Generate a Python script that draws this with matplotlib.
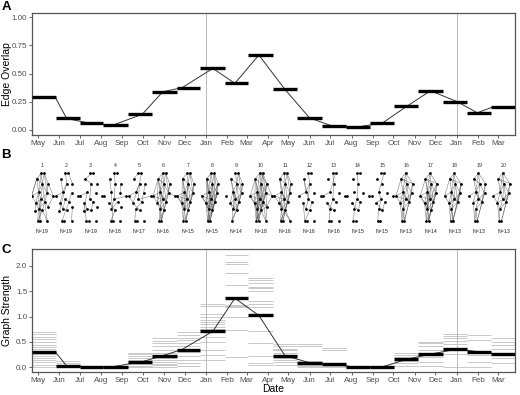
import datetime as dt
import matplotlib
matplotlib.use('Agg')
import matplotlib.pyplot as plt
import matplotlib.dates as mdates

plt.rcParams['font.family'] = ['Liberation Sans', 'DejaVu Sans']

# sampling windows (edges shared by neighbouring windows)
window_edges = ['2014-04-23', '2014-05-28', '2014-07-02', '2014-08-04', '2014-09-10',
                '2014-10-15', '2014-11-20', '2014-12-23', '2015-01-29', '2015-03-03',
                '2015-04-08', '2015-05-14', '2015-06-19', '2015-07-24', '2015-08-28',
                '2015-10-02', '2015-11-06', '2015-12-12', '2016-01-16', '2016-02-20',
                '2016-03-26']
# dates where the connecting line passes each window
line_dates = ['2014-05-26', '2014-06-12', '2014-07-16', '2014-08-18', '2014-09-30',
              '2014-10-30', '2014-11-27', '2015-01-11', '2015-02-12', '2015-03-19',
              '2015-04-26', '2015-06-01', '2015-07-04', '2015-08-09', '2015-09-15',
              '2015-10-21', '2015-11-24', '2016-01-02', '2016-01-31', '2016-02-24']
year_marks = ['2015-01-01', '2016-01-01']

edge_overlap = [0.294, 0.10, 0.057, 0.04, 0.137, 0.338, 0.374, 0.546, 0.413, 0.665,
                0.359, 0.104, 0.033, 0.024, 0.06, 0.211, 0.347, 0.249, 0.151, 0.205]
graph_strength = [0.31, 0.03, 0.012, 0.012, 0.11, 0.23, 0.35, 0.71, 1.36, 1.02,
                  0.23, 0.09, 0.065, 0.0, 0.01, 0.16, 0.26, 0.36, 0.31, 0.27]
individual_strength = [
    [0.69, 0.66, 0.60, 0.55, 0.49, 0.44, 0.40, 0.36, 0.27, 0.22, 0.18, 0.14, 0.10, 0.05, 0.01],
    [0.13, 0.09, 0.05, 0.02, 0.0, 0.0],
    [0.03, 0.01, 0.0, 0.0],
    [0.02, 0.01, 0.0, 0.0],
    [0.29, 0.26, 0.23, 0.19, 0.15, 0.11, 0.07, 0.03, 0.0],
    [0.57, 0.52, 0.47, 0.41, 0.35, 0.29, 0.18, 0.14, 0.10, 0.07, 0.04, 0.01],
    [0.70, 0.63, 0.58, 0.53, 0.48, 0.42, 0.30, 0.22, 0.15, 0.09, 0.02],
    [1.24, 1.21, 1.04, 0.99, 0.94, 0.90, 0.85, 0.80, 0.75, 0.60, 0.49, 0.35, 0.24, 0.14],
    [2.21, 2.07, 2.03, 1.85, 1.62, 1.23, 1.20, 1.18, 1.00, 0.74, 0.21],
    [1.75, 1.71, 1.66, 1.59, 1.56, 1.50, 1.30, 1.24, 1.19, 0.72, 0.47, 0.22, 0.08, 0.05],
    [0.45, 0.41, 0.37, 0.34, 0.29, 0.18, 0.14, 0.11, 0.05],
    [0.45, 0.42, 0.12, 0.05, 0.02, 0.0],
    [0.38, 0.34, 0.06, 0.02, 0.0],
    [0.01, 0.0, 0.0],
    [0.02, 0.01, 0.0],
    [0.28, 0.25, 0.21, 0.12, 0.08, 0.03],
    [0.50, 0.47, 0.41, 0.35, 0.28, 0.21, 0.11, 0.02],
    [0.65, 0.62, 0.57, 0.52, 0.45, 0.36, 0.26, 0.01],
    [0.64, 0.54, 0.24, 0.11, 0.01],
    [0.57, 0.49, 0.44, 0.37, 0.28, 0.18, 0.08],
]

# networks of panel B
net_ids = list(range(1, 21))
net_sizes = [19, 19, 19, 18, 17, 16, 15, 15, 14, 18, 16, 16, 16, 15, 15, 13, 14, 13, 13, 13]
net_nodes = ['abcdefghijklmnopqrs', 'abcdefghijklmnopqrs', 'abcdefghijklmnopqrs',
             'abcdefghijklmnoqrs', 'abcdefghijklnoqrs', 'abcdefghijklnoqr',
             'abcdefhijklnoqr', 'abcdefhijklnoqr', 'abcdefhijklnoq',
             'abcdefghijklmnoqrs', 'abcdefhijklnoqrs', 'abcefghijklnoqrs',
             'abcefghijklnoqrs', 'abcefghijklnoqr', 'abcefghijklnoqr',
             'acdefhijklnqr', 'acdefhijklnoqr', 'acdefhijklnqr', 'acdefhijklnqr',
             'acdefhijklnqr']
net_edges = [
    'ab ac ae ai bd be bh ce ci cf ei ej eh ek dh dg hg hk hj ij il fi fl jl jk jn ko kn km lp ln np nq no oq os ks mg ir jr fc',
    'ab ae bd ci ei fi il jn ln no jk kq ms hk ep',
    'ab bc ce ej jk ln lq no ko if ip',
    'ab ae ci ej jg jn kn lo oq dh ir',
    'ab ac be ei ej jk kn lo if fl nq dk jg el',
    'ab ac ae ai bd be bh ce ci cf cj ei ej eh ek dh dk hk hj hg ij il ik fi fl fj jl jk jn jo kn ko lo ln nq nr oq or kr ir cl',
    'ab ac ae bd be bh ce ci cj cl ei ej eh ek en dh dk hk hj ho ij il ik in fi fl fj fn jl jk jn jo kn ko lo ln nq nr oq or kr lq',
    'ab ac ae ai bd be bh bk ce ci cj cl cn ei ej eh ek en eo dh dk dj hk hj ho hr ij il ik in io fi fl fj fn jl jk jn jo jq kn ko kq lo ln lr nq nr oq or kr lq',
    'ab ae bd be bh ce ci cj ei ej eh ek dh dk hk hj ho ij il ik in jl jk jn jo kn ko lo ln nq oq kq',
    'ab ac ad ae ai bd be bh bk ce ci cj cl cf ei ej eh ek en eo dh dk dj dg hk hj ho hg hm ij il ik in io fi fl fj fn jl jk jn jo jq jm kn ko kq km lo ln lr lq nq nr oq or os kr ks ms mo ir gm',
    'ab ac ae bd be bh ce ci cj ei ej eh ek dh dk hk hj ho ij il ik in fi fl fj jl jk jn jo kn ko kq lo ln nq nr oq or kr ls os',
    'ab ae ci cj ei ej fi jk jn ln lq no oq ko',
    'ab ae bi ej jn jk nq ln lo fi',
    'ab ae ej jn nq jk ko lo',
    'ab bi ij jl jn nq lo ko',
    'ac ad ae ai cd ce ci cf ei ej eh ek dh dk hk hj ij il ik fi fl fj jl jk jn kn lq ln nq nr kr ir hr',
    'ac ad ae ai cd ce ci cf cj ei ej eh ek en dh dk dj hk hj ho ij il ik in fi fl fj fn jl jk jn jo kn ko lo ln lq nq nr oq or kr ir hr',
    'ac ad ae ai cd ce ci cf ei ej eh ek dh dk hk hj ij il ik fi fl jl jk jn kn lq ln nq nr kr ir hr dr',
    'ac ad ae ai ce ci ei ej eh dh dk hk hj ij il ik fi jl jk jn kn lq nq nr kr hr',
    'ac ad ae ai cd ce ci ei ej eh ek dh dk hk hj ij il fi fl jl jk jn kn lq ln nq kr hr',
]
node_layout = {
    'a': (0.55, 1.00), 'b': (0.72, 1.00), 'c': (0.30, 0.88), 'd': (0.95, 0.78),
    'e': (0.62, 0.78), 'f': (0.00, 0.52), 'g': (1.25, 0.52), 'h': (0.90, 0.58),
    'i': (0.40, 0.60), 'j': (0.55, 0.45), 'k': (0.75, 0.40), 'l': (0.25, 0.38),
    'm': (0.95, 0.30), 'n': (0.40, 0.25), 'o': (0.62, 0.22), 'p': (0.20, 0.20),
    'q': (0.35, 0.00), 'r': (0.48, 0.00), 's': (0.90, 0.00),
}

to_date = lambda s: dt.datetime.strptime(s, '%Y-%m-%d')
edges = [to_date(s) for s in window_edges]
starts, ends = edges[:-1], edges[1:]
ldates = [to_date(s) for s in line_dates]

W, H = 520, 395
fig = plt.figure(figsize=(W / 100, H / 100), dpi=100)

def px_axes(x0, y0, x1, y1):
    return fig.add_axes([x0 / W, 1 - y1 / H, (x1 - x0) / W, (y1 - y0) / H])

tick_col = '#4D4D4D'

def style_time_axis(ax):
    ax.set_xlim(edges[0], edges[-1])
    ax.xaxis.set_major_locator(mdates.MonthLocator())
    ax.xaxis.set_major_formatter(mdates.DateFormatter('%b'))
    ax.tick_params(axis='both', labelsize=5.8, colors=tick_col, length=2.2, width=0.6, pad=1.5)
    for sp in ax.spines.values():
        sp.set_color('#555555')
        sp.set_linewidth(0.9)
    for y in year_marks:
        ax.axvline(to_date(y), color='#BBBBBB', lw=0.7, zorder=0)

# ---- A ----
axA = px_axes(32.3, 12.7, 515, 135)
style_time_axis(axA)
axA.plot(ldates, edge_overlap, color='#333333', lw=0.7, zorder=2)
axA.hlines(edge_overlap, starts, ends, color='black', lw=2.4, capstyle='butt', zorder=3)
axA.set_ylim(-0.047, 1.042)
axA.set_yticks([0, 0.25, 0.5, 0.75, 1.0])
axA.set_yticklabels(['0.00', '0.25', '0.50', '0.75', '1.00'])
axA.set_ylabel('Edge Overlap', fontsize=7.5)
axA.yaxis.set_label_coords((12.5 - 32.3) / (515 - 32.3), 0.5)

# ---- B ----
axB = px_axes(32.3, 155, 515, 245)
axB.set_xlim(0.60, 20.47)
axB.set_ylim(-0.5, 1.375)
axB.axis('off')
sx = 0.72
for k, i in enumerate(net_ids):
    pos = {n: (i + (node_layout[n][0] - 0.6) * sx, node_layout[n][1]) for n in net_nodes[k]}
    for e in net_edges[k].split():
        (x1, y1), (x2, y2) = pos[e[0]], pos[e[1]]
        axB.plot([x1, x2], [y1, y2], color='#555555', lw=0.4, alpha=0.75, zorder=1)
    xs = [p[0] for p in pos.values()]
    ys = [p[1] for p in pos.values()]
    axB.scatter(xs, ys, s=4, color='black', zorder=2, linewidths=0)
    axB.text(i, 1.146, str(i), fontsize=3.8, ha='center', va='center', color='#333333')
    axB.text(i, -0.21, f'N={net_sizes[k]}', fontsize=3.8, ha='center', va='center', color='#222222')

# ---- C ----
axC = px_axes(32.3, 249.3, 515, 372.3)
style_time_axis(axC)
for s, e, vals in zip(starts, ends, individual_strength):
    axC.hlines(vals, s, e, color='#BBBBBB', lw=0.55, zorder=1)
axC.plot(ldates, graph_strength, color='#333333', lw=0.7, zorder=2)
axC.hlines(graph_strength, starts, ends, color='black', lw=2.4, capstyle='butt', zorder=3)
axC.set_ylim(-0.098, 2.323)
axC.set_yticks([0, 0.5, 1.0, 1.5, 2.0])
axC.set_yticklabels(['0.0', '0.5', '1.0', '1.5', '2.0'])
axC.set_ylabel('Graph Strength', fontsize=7.5)
axC.yaxis.set_label_coords((12.5 - 32.3) / (515 - 32.3), 0.5)

fig.text(273.6 / W, 1 - 389.5 / H, 'Date', fontsize=7.5, ha='center', va='center')

for lab, y in [('A', 7), ('B', 155), ('C', 250)]:
    fig.text(6 / W, 1 - y / H, lab, fontsize=9.5, fontweight='bold', ha='center', va='center')

fig.savefig('out.png', dpi=100)
